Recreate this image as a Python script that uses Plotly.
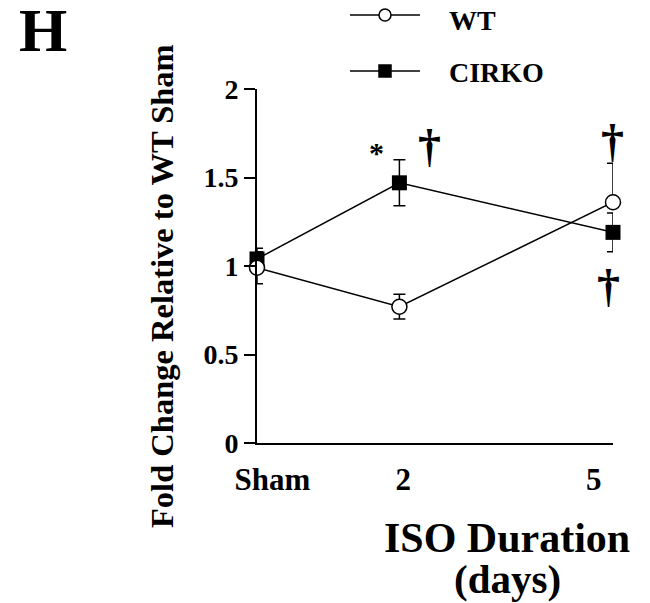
import plotly.graph_objects as go

# ISO duration in days (Sham drawn at day 0)
days = [0, 2, 5]
day_labels = ["Sham", "2", "5"]

wt_mean = [0.99, 0.77, 1.36]
wt_err_up = [0.09, 0.07, 0.22]
wt_err_down = [0.09, 0.07, 0.0]

cirko_mean = [1.04, 1.47, 1.19]
cirko_err_up = [0.06, 0.13, 0.11]
cirko_err_down = [0.06, 0.13, 0.11]

# significance marks: (x, y, text)
sig_marks = [
    (1.68, 1.64, "*"),
    (2.42, 1.68, "†"),
    (4.99, 1.71, "†"),
    (4.93, 0.89, "†"),
]

SERIF = "Liberation Serif, Times New Roman, serif"

# the page puts the figure 8px in from the window corner
OFF = 8
W, H = 650 - OFF, 603 - OFF
# plot area in window pixels
LEFT, RIGHT, TOP, BOTTOM = 257, 613, 89, 443


def px(x):
    return (x - LEFT) / (RIGHT - LEFT)


def py(y):
    return (BOTTOM - y) / (BOTTOM - TOP)


fig = go.Figure()

fig.add_trace(
    go.Scatter(
        x=days,
        y=cirko_mean,
        name="CIRKO",
        mode="lines+markers",
        line=dict(color="black", width=1.5),
        marker=dict(symbol="square", size=15, color="black"),
        error_y=dict(
            type="data",
            symmetric=False,
            array=cirko_err_up,
            arrayminus=cirko_err_down,
            color="black",
            thickness=1.5,
            width=6,
        ),
        cliponaxis=False,
        showlegend=False,
    )
)
fig.add_trace(
    go.Scatter(
        x=days,
        y=wt_mean,
        name="WT",
        mode="lines+markers",
        line=dict(color="black", width=1.5),
        marker=dict(
            symbol="circle", size=15, color="white", line=dict(color="black", width=1.5)
        ),
        error_y=dict(
            type="data",
            symmetric=False,
            array=wt_err_up,
            arrayminus=wt_err_down,
            color="black",
            thickness=1.5,
            width=6,
        ),
        cliponaxis=False,
        showlegend=False,
    )
)

annotations = []
for x, y, t in sig_marks:
    annotations.append(
        dict(
            x=x, y=y, xref="x", yref="y", text=f"<b>{t}</b>", showarrow=False,
            xanchor="center", yanchor="middle",
            font=dict(family=SERIF, size=46 if t == "†" else 30, color="black"),
        )
    )


def note(x, y, text, size, xanchor="center", **kw):
    annotations.append(
        dict(x=px(x), y=py(y), xref="paper", yref="paper", text=f"<b>{text}</b>",
             showarrow=False, xanchor=xanchor, yanchor="middle",
             font=dict(family=SERIF, size=size, color="black"), **kw)
    )


# panel letter, axis titles
note(43, 30, "H", 62)
note(162, 286, "Fold Change Relative to WT Sham", 32.5, textangle=-90)
note(507, 538, "ISO Duration", 42)
note(507, 579, "(days)", 41)

# legend, drawn by hand so the line sample is long like the original
legend_items = [("WT", 15, "circle"), ("CIRKO", 71, "square")]
shapes = []
for label, ly, sym in legend_items:
    shapes.append(dict(type="line", xref="paper", yref="paper",
                       x0=px(350), x1=px(420), y0=py(ly), y1=py(ly),
                       line=dict(color="black", width=1.5)))
    r = 6
    shapes.append(dict(type="circle" if sym == "circle" else "rect",
                       xref="paper", yref="paper",
                       x0=px(385 - r), x1=px(385 + r), y0=py(ly + r), y1=py(ly - r),
                       fillcolor="white" if sym == "circle" else "black",
                       line=dict(color="black", width=1.5)))
    note(447, ly + 5 if label == "WT" else ly + 2, label, 28, xanchor="left")

# x tick labels sit a little off their ticks in the original
NB = "&nbsp;"
x_ticktext = [
    f"<b>{NB * 4}{day_labels[0]}</b>",
    f"<b>{NB}{day_labels[1]}</b>",
    f"<b>{day_labels[2]}{NB * 5}</b>",
]

fig.update_layout(
    width=W,
    height=H,
    paper_bgcolor="white",
    plot_bgcolor="white",
    margin=dict(l=LEFT - OFF, r=650 - RIGHT, t=TOP - OFF, b=603 - BOTTOM, autoexpand=False),
    font=dict(family=SERIF, color="black"),
    xaxis=dict(
        range=[0, 5],
        tickvals=days,
        ticktext=x_ticktext,
        tickfont=dict(family=SERIF, size=31, color="black"),
        ticklabelstandoff=8,
        showline=True,
        linecolor="black",
        linewidth=2,
        ticks="",
        showgrid=False,
        zeroline=False,
    ),
    yaxis=dict(
        range=[0, 2],
        tickvals=[0, 0.5, 1, 1.5, 2],
        ticktext=["<b>0</b>", "<b>0.5</b>", "<b>1</b>", "<b>1.5</b>", "<b>2</b>"],
        tickfont=dict(family=SERIF, size=28, color="black"),
        showline=True,
        linecolor="black",
        linewidth=2,
        ticks="outside",
        ticklen=11,
        tickwidth=2,
        tickcolor="black",
        showgrid=False,
        zeroline=False,
    ),
    annotations=annotations,
    shapes=shapes,
)

fig.write_html("out.html")
